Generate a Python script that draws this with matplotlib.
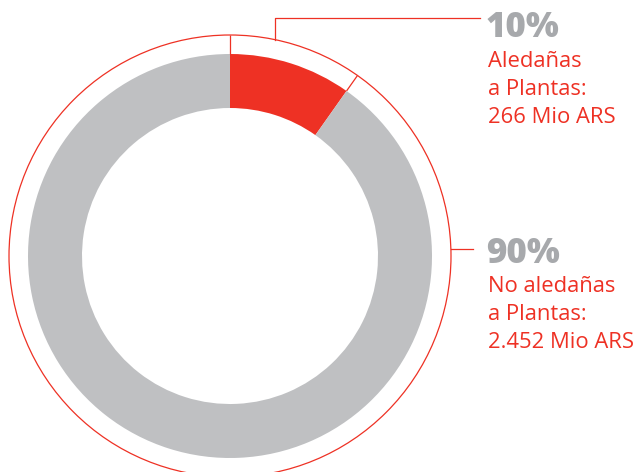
import numpy as np
import matplotlib
matplotlib.use("Agg")
import matplotlib.pyplot as plt
from matplotlib.patches import Circle

# ---- data ----
categories = ["Aledañas a Plantas", "No aledañas a Plantas"]
values = [266, 2452]            # Mio ARS
pct_labels = ["10%", "90%"]
desc_lines = [["Aledañas", "a Plantas:", "266 Mio ARS"],
              ["No aledañas", "a Plantas:", "2.452 Mio ARS"]]

RED = "#EE3124"
GRAY = "#BFC0C2"
PCT_GRAY = "#A7A9AC"

W, H = 639, 472
fig = plt.figure(figsize=(W / 100, H / 100), dpi=100)
ax = fig.add_axes([0, 0, 1, 1])

cx, cy = 230, H - 256
R_out, R_in, R_ring = 202, 148, 221

ax.pie(values, colors=[RED, GRAY], startangle=90, counterclock=False,
       radius=R_out, center=(cx, cy),
       wedgeprops=dict(width=R_out - R_in, linewidth=0))

ax.add_patch(Circle((cx, cy), R_ring, fill=False, edgecolor=RED, linewidth=0.9))

# radial separators between ring and donut (slice boundaries of first slice)
bounds = [0, values[0] / sum(values)]
for f in bounds:
    th = np.deg2rad(90 - 360 * f)
    ax.plot([cx + R_out * np.cos(th), cx + R_ring * np.cos(th)],
            [cy + R_out * np.sin(th), cy + R_ring * np.sin(th)],
            color=RED, lw=0.9, solid_capstyle="butt")

# leader line for first label
lx = 275
ly0 = cy + np.sqrt(R_ring**2 - (lx - cx)**2)
ax.plot([lx, lx, 480], [ly0, H - 18, H - 18], color=RED, lw=0.9)
# leader line for second label
ly2 = H - 249
lx2 = cx + np.sqrt(R_ring**2 - (ly2 - cy)**2)
ax.plot([lx2, 473], [ly2, ly2], color=RED, lw=0.9)

font = "Open Sans"
pct_base = [37, 263]
base_y = [[67, 95, 123], [292, 320, 348]]
for i in range(2):
    ax.text(486, H - pct_base[i], pct_labels[i], color=PCT_GRAY, fontsize=25,
            fontweight="heavy", family=font, va="baseline", ha="left")
    for line, by in zip(desc_lines[i], base_y[i]):
        ax.text(488, H - by, line, color=RED, fontsize=15.8,
                family=font, va="baseline", ha="left")

ax.set_xlim(0, W)
ax.set_ylim(0, H)
ax.set_aspect("equal")
ax.axis("off")

fig.savefig("out.png", dpi=100)
